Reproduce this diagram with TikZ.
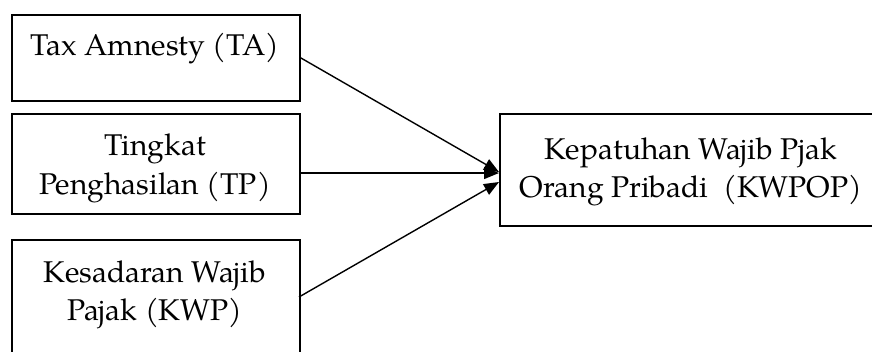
\documentclass[tikz,border=0pt]{standalone}
\usepackage{fontspec}
\setmainfont{texgyrepagella-regular.otf}
\usetikzlibrary{arrows.meta}
\tikzset{
  box/.style={draw, line width=1.6pt, rectangle, inner sep=0pt, anchor=north west},
  lbl/.style={font=\fontsize{30}{39}\selectfont, anchor=base, inner sep=0pt},
  arr/.style={line width=1.4pt, -{Triangle[length=15pt,width=12pt]}}
}
\begin{document}
\begin{tikzpicture}[x=1pt,y=-1pt]
\useasboundingbox (0,0) rectangle (872,351);
\clip (0,0) rectangle (872,351);
% boxes
\node[box, minimum width=288pt, minimum height=86pt] (b1) at (11,14) {};
\node[box, minimum width=288pt, minimum height=100pt] (b2) at (11,113) {};
\node[box, minimum width=288pt, minimum height=140pt] (b3) at (11,239) {};
\node[box, minimum width=400pt, minimum height=112pt] (r) at (499,113) {};
% labels
\node[lbl] (l1) at (155,55) {Tax Amnesty (TA)};
\node[lbl] (l2a) at (155,155) {Tingkat};
\node[lbl] (l2b) at (155,194) {Penghasilan (TP)};
\node[lbl] (l3a) at (155,282) {Kesadaran Wajib};
\node[lbl] (l3b) at (155,320) {Pajak (KWP)};
\node[lbl] (lra) at (691,159) {Kepatuhan Wajib Pjak};
\node[lbl] (lrb) at (691,197) {Orang Pribadi~ (KWPOP)};
% connector end points
\coordinate (s2) at (299,173);
\coordinate (s3) at (299,297);
\coordinate (e1) at (499,172);
\coordinate (e2) at (499,173);
\coordinate (e3) at (499,182);
% connectors
\draw[arr] (b1.east) -- (e1);
\draw[arr] (s2) -- (e2);
\draw[arr] (s3) -- (e3);
\end{tikzpicture}
\end{document}
